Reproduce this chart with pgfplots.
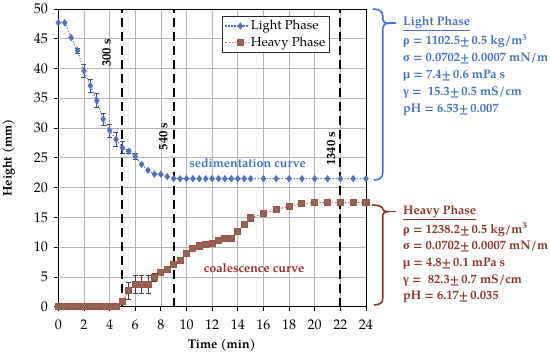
\documentclass[border=0pt]{standalone}
\usepackage{fontspec}
\setmainfont{TeX Gyre Pagella}
\newfontfamily\grk{Liberation Serif}
\usepackage{pgfplots}
\pgfplotsset{compat=1.18}
\definecolor{lightc}{HTML}{5470C0}
\definecolor{lighttext}{HTML}{4472C4}
\definecolor{heavyline}{HTML}{C0504D}
\definecolor{heavymark}{HTML}{8C6656}
\definecolor{heavytext}{HTML}{8E3526}
\definecolor{gridc}{HTML}{B4B4B4}
\newcommand\PX[2]{({#1-58.3},{306.7-#2})}
\pgfplotstableread{
t h
0 47.7
0.5 47.7
1 45.2
1.5 43.0
2 39.6
2.5 37.1
3 34.6
3.5 31.5
4 29.6
4.5 28.1
5 26.7
5.5 26.1
6 25.3
6.5 23.9
7 22.9
7.5 22.25
8 22.25
8.5 21.85
9 21.5
9.5 21.5
10 21.5
10.5 21.5
11 21.5
11.5 21.5
12 21.5
12.5 21.5
13 21.5
13.5 21.5
14 21.5
14.5 21.5
15 21.5
16 21.5
17 21.5
18 21.5
19 21.5
20 21.5
21 21.5
22 21.5
23 21.5
24 21.5
}\lighttab
\pgfplotstableread{
t h e
1.5 43.0 0.4
2 39.6 1.1
2.5 37.1 1.1
3 34.6 1.2
3.5 31.5 1.0
4 29.6 1.1
4.5 28.1 1.25
5 26.7 1.0
5.5 26.1 0.4
6 25.3 0.5
}\lighterr
\pgfplotstableread{
t h
0 0
0.5 0
1 0
1.5 0
2 0
2.5 0
3 0
3.5 0
4 0
4.5 0
5 0.9
5.5 2.65
6 3.7
6.5 3.7
7 3.7
7.5 4.95
8 5.7
8.5 6.2
9 7.1
9.5 7.8
10 9.0
10.5 9.7
11 10.2
11.5 10.5
12 10.6
12.5 11.1
13 11.4
13.5 11.4
14 12.6
14.5 13.8
15 14.9
16 15.6
17 16.3
18 16.9
19 17.3
20 17.5
21 17.5
22 17.5
23 17.5
24 17.5
}\heavytab
\pgfplotstableread{
t h e
5 0.9 0.3
5.5 2.65 1.35
6 3.7 1.5
6.5 3.7 1.5
7 3.7 1.5
7.5 4.95 0.7
}\heavyerr
\begin{document}
\begin{tikzpicture}[x=1pt,y=1pt]
\path[use as bounding box] \PX{0}{0} rectangle \PX{550}{352};
\begin{axis}[
  at={(0,0)}, anchor=south west,
  scale only axis, width=307.7pt, height=297.7pt,
  xmin=0, xmax=24, ymin=0, ymax=50,
  xtick={0,2,...,24}, ytick={0,5,...,50},
  grid=major, major grid style={gridc, line width=0.7pt},
  axis line style={black, line width=0.9pt},
  tick align=outside, tick pos=left, major tick length=4pt,
  tick style={black, line width=0.8pt},
  ticklabel style={font=\fontsize{14}{14}\selectfont},
  xticklabel style={yshift=-6pt},
  yticklabel style={xshift=-3pt},
  /pgf/number format/assume math mode=true,
  xlabel={\textbf{Time (min)}}, ylabel={\textbf{Height (mm)}},
  label style={font=\fontsize{12.5}{13}\selectfont},
  xlabel style={at={(axis cs:12.75,0)}, anchor=north, yshift=-29pt},
  ylabel style={yshift=12pt},
  clip=false,
  legend style={at={(rel axis cs:0.533,0.9765)}, anchor=north west,
    draw=black!85, line width=1pt, font=\fontsize{13}{13}\selectfont,
    inner sep=2pt, row sep=2pt, fill=white},
  legend cell align=left,
  legend image code/.code={\draw[#1, mark repeat=2, mark phase=2] plot coordinates {(0pt,0pt)(15pt,0pt)(23pt,0pt)};},
]
\addplot[forget plot, black, line width=2pt, dash pattern=on 9pt off 5pt] coordinates {(5,0)(5,50)};
\addplot[forget plot, black, line width=2pt, dash pattern=on 9pt off 5pt] coordinates {(9,0)(9,50)};
\addplot[forget plot, black, line width=2pt, dash pattern=on 9pt off 5pt] coordinates {(22,0)(22,50)};
\addplot[forget plot, draw=none, mark=none, error bars/.cd, y dir=both, y explicit,
  error bar style={draw=lightc!70!black, solid, line width=0.8pt},
  error mark options={rotate=90, mark size=2.5pt, solid, line width=0.8pt, draw=lightc!70!black}]
  table[x=t,y=h,y error=e] {\lighterr};
\addplot[forget plot, draw=none, mark=none, error bars/.cd, y dir=both, y explicit,
  error bar style={draw=black!75, solid, line width=0.8pt},
  error mark options={rotate=90, mark size=2.5pt, solid, line width=0.8pt, draw=black!75}]
  table[x=t,y=h,y error=e] {\heavyerr};
\addplot[lightc, line width=1.1pt, dash pattern=on 1.2pt off 1.8pt, mark=diamond*, mark size=2.8pt, mark options={solid, fill=lightc}] table[x=t,y=h] {\lighttab};
\addplot[heavyline, line width=1.1pt, dash pattern=on 1.2pt off 2pt, mark=square*, mark size=3pt, mark options={solid, fill=heavymark, draw=heavymark!80!red}] table[x=t,y=h] {\heavytab};
\legend{Light Phase, Heavy Phase}
\node[rotate=90, font=\bfseries\fontsize{12.5}{13}\selectfont] at (axis cs:3.77,42.6) {300 s};
\node[rotate=90, font=\bfseries\fontsize{12.5}{13}\selectfont] at (axis cs:8.19,28.6) {540 s};
\node[rotate=90, font=\bfseries\fontsize{12.5}{13}\selectfont] at (axis cs:21.27,26.5) {1340 s};
\node[font=\bfseries\fontsize{12.5}{13}\selectfont, text=lighttext] at (axis cs:14.76,24.1) {sedimentation curve};
\node[font=\bfseries\fontsize{12.5}{13}\selectfont, text=heavytext!85!red] at (axis cs:15.27,6.55) {coalescence curve};
\end{axis}
% braces
\draw[lighttext, line width=1.6pt] \PX{373}{9} .. controls \PX{379}{9} and \PX{382.7}{11} .. \PX{382.7}{16} -- \PX{382.7}{19} .. controls \PX{382.7}{22} and \PX{385}{23.3} .. \PX{389}{23.3} .. controls \PX{385}{23.3} and \PX{382.7}{25} .. \PX{382.7}{28} -- \PX{382.7}{173} .. controls \PX{382.7}{178} and \PX{379}{180} .. \PX{374}{180};
\draw[lighttext, line width=1.6pt] \PX{388}{23.3} -- \PX{396}{23.3};
\draw[heavytext, line width=1.6pt] \PX{372}{205} .. controls \PX{378}{205} and \PX{382.7}{206.5} .. \PX{382.7}{209} .. controls \PX{382.7}{210.8} and \PX{385}{211.7} .. \PX{389}{211.7} .. controls \PX{385}{211.7} and \PX{382.7}{212.6} .. \PX{382.7}{215} -- \PX{382.7}{299} .. controls \PX{382.7}{303} and \PX{379}{305} .. \PX{374}{305};
\draw[heavytext, line width=1.6pt] \PX{388}{211.7} -- \PX{396}{211.7};
% texts
\begin{scope}[every node/.style={anchor=west, inner sep=0pt, font=\bfseries\fontsize{12.5}{13}\selectfont}]
\node[text=lighttext] at \PX{403}{24} {\underline{Light Phase}};
\node[text=lighttext] at \PX{403}{41.5} {{\grk ρ} = 1102.5±\,0.5 kg/m\textsuperscript{3}};
\node[text=lighttext] at \PX{403}{58.5} {{\grk σ} = 0.0702±\,0.0007 mN/m};
\node[text=lighttext] at \PX{403}{75.5} {{\grk μ} = 7.4±\,0.6 mPa s};
\node[text=lighttext] at \PX{403}{92.5} {{\grk γ} =\ \ 15.3±\,0.5 mS/cm};
\node[text=lighttext] at \PX{403}{109.5} {pH = 6.53±\,0.007};
\node[text=heavytext] at \PX{403}{212.3} {\underline{Heavy Phase}};
\node[text=heavytext] at \PX{403}{229.7} {{\grk ρ} = 1238.2±\,0.5 kg/m\textsuperscript{3}};
\node[text=heavytext] at \PX{403}{246.7} {{\grk σ} = 0.0702±\,0.0007 mN/m};
\node[text=heavytext] at \PX{403}{263.5} {{\grk μ} = 4.8±\,0.1 mPa s};
\node[text=heavytext] at \PX{403}{280.3} {{\grk γ} =\ \ 82.3±\,0.7 mS/cm};
\node[text=heavytext] at \PX{403}{297.3} {pH = 6.17±\,0.035};
\end{scope}
\end{tikzpicture}
\end{document}
